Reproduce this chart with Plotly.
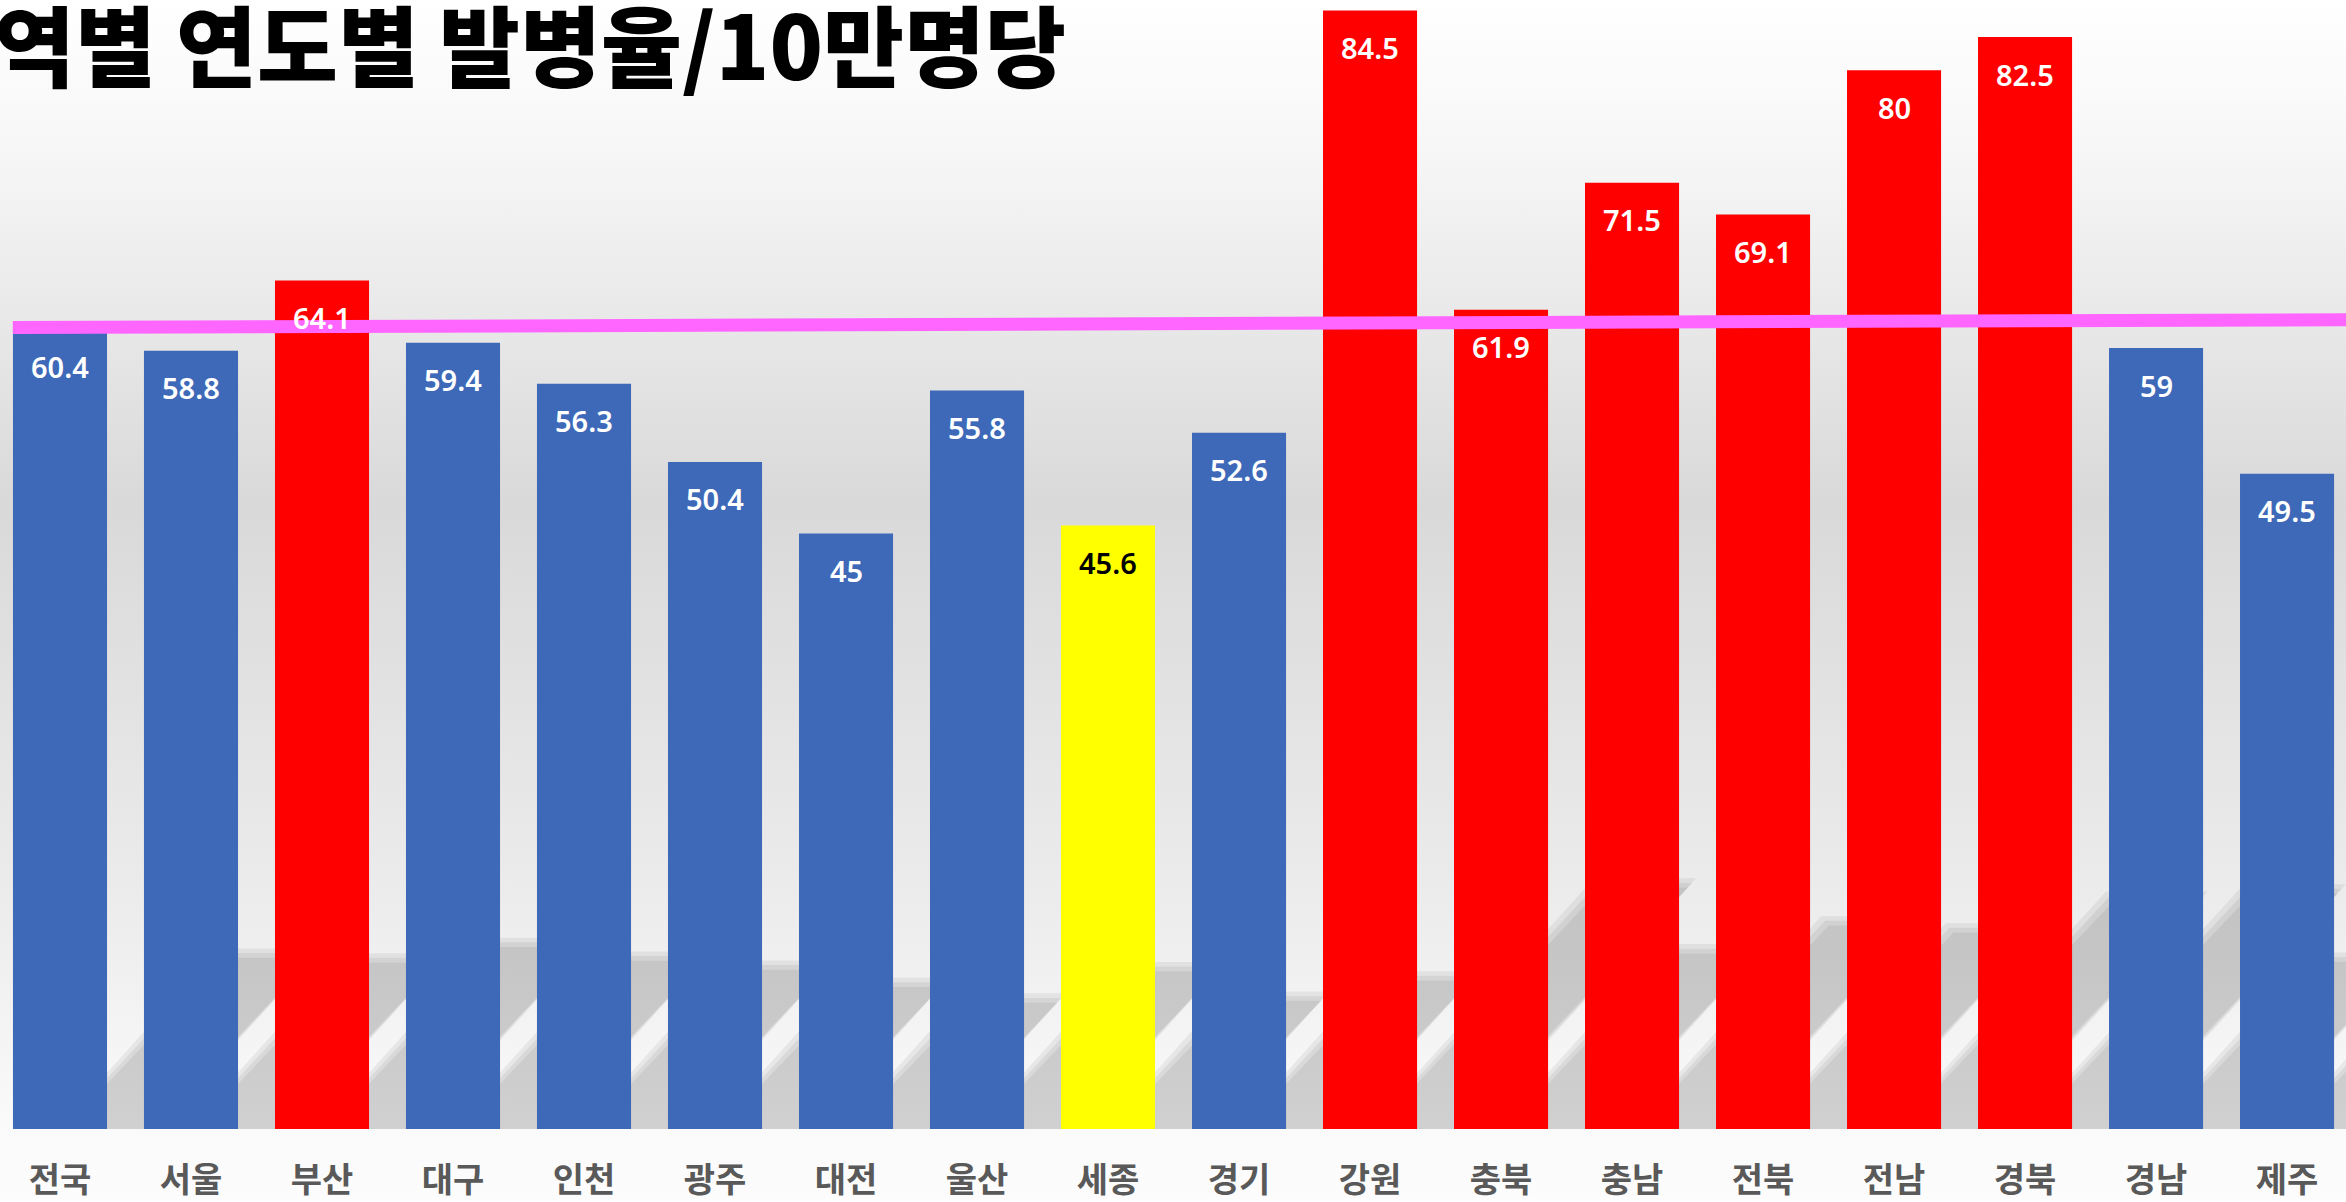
import base64
import plotly.graph_objects as go

# ---- data ----
regions = ["전국", "서울", "부산", "대구", "인천", "광주", "대전", "울산", "세종",
           "경기", "강원", "충북", "충남", "전북", "전남", "경북", "경남", "제주"]
rates = [60.4, 58.8, 64.1, 59.4, 56.3, 50.4, 45, 55.8, 45.6,
         52.6, 84.5, 61.9, 71.5, 69.1, 80, 82.5, 59, 49.5]
rate_labels = ["60.4", "58.8", "64.1", "59.4", "56.3", "50.4", "45", "55.8", "45.6",
               "52.6", "84.5", "61.9", "71.5", "69.1", "80", "82.5", "59", "49.5"]
title_text = "역별 연도별 발병율/10만명당"
# reference line (national level, drawn slightly tilted as in the picture)
ref_line_x = [-0.36, 17.6]
ref_line_y = [60.55, 61.15]

# ---- styles ----
BLUE = "#3d69b8"
RED = "#ff0000"
YELLOW = "#ffff00"
BAR_W = 0.718
bar_colors = []
label_colors = []
for r, v in zip(regions, rates):
    if r == "세종":
        bar_colors.append(YELLOW)
        label_colors.append("#000000")
    elif v > rates[0]:
        bar_colors.append(RED)
        label_colors.append("#ffffff")
    else:
        bar_colors.append(BLUE)
        label_colors.append("#ffffff")

W, H = 2346, 1202
MB = 71

fig = go.Figure()
fig.add_trace(go.Bar(
    x=list(range(len(regions))), y=rates, width=BAR_W,
    marker=dict(color=bar_colors, line=dict(width=0)),
    hoverinfo="skip", showlegend=False,
))
fig.add_trace(go.Scatter(
    x=ref_line_x, y=ref_line_y, mode="lines",
    line=dict(color="#ff66ff", width=13),
    hoverinfo="skip", showlegend=False, cliponaxis=False,
))

# soft perspective drop shadows behind the bars (derived from bar values)
shapes = []
SH_OFF = BAR_W / 2      # ground offset of the shadow
SH_H = 0.22             # shadow height relative to the bar
SH_SKEW = 0.0206        # horizontal skew per unit of value
for i, v in enumerate(rates):
    for gx, gy in [(-0.03, -0.35), (0.0, 0.0), (0.03, 0.35)]:
        x0 = i - BAR_W / 2 + SH_OFF - gx
        x1 = i + BAR_W / 2 + SH_OFF + gx
        dx = SH_SKEW * v
        hs = SH_H * v + gy
        shapes.append(dict(
            type="path", xref="x", yref="y", layer="below",
            path=f"M {x0},0 L {x1},0 L {x1 + dx},{hs} L {x0 + dx},{hs} Z",
            fillcolor="rgba(0,0,0,0.06)", line=dict(width=0),
        ))

annotations = []
for i, (lab, v, c) in enumerate(zip(rate_labels, rates, label_colors)):
    annotations.append(dict(
        x=i, y=v, xref="x", yref="y", text=lab, showarrow=False,
        yanchor="middle", yshift=-37,
        font=dict(family="Noto Sans", size=29, color=c, weight=600),
    ))
annotations.append(dict(
    x=0, y=1, xref="paper", yref="paper", xanchor="left", yanchor="top",
    xshift=-8, yshift=24,
    text=title_text, showarrow=False,
    font=dict(family="Noto Sans CJK KR", size=88, color="#000000", weight=900),
))

# background gradient image
svg = f'''<svg xmlns="http://www.w3.org/2000/svg" width="{W}" height="{H}" preserveAspectRatio="none">
<defs><linearGradient id="g" x1="0" y1="0" x2="0" y2="1">
<stop offset="0" stop-color="#ffffff"/>
<stop offset="0.12" stop-color="#f7f7f7"/>
<stop offset="0.42" stop-color="#d9d9d9"/>
<stop offset="0.75" stop-color="#ececec"/>
<stop offset="0.94" stop-color="#fafafa"/>
<stop offset="1" stop-color="#fcfcfc"/>
</linearGradient></defs>
<rect width="{W}" height="{H}" fill="url(#g)"/></svg>'''
src = "data:image/svg+xml;base64," + base64.b64encode(svg.encode()).decode()

plot_h = H - MB
fig.update_layout(
    width=W, height=H,
    margin=dict(l=0, r=0, t=0, b=MB),
    paper_bgcolor="#ffffff", plot_bgcolor="rgba(0,0,0,0)",
    showlegend=False,
    annotations=annotations,
    shapes=shapes,
    images=[dict(source=src, xref="paper", yref="paper", x=0, y=1,
                 sizex=1, sizey=H / plot_h, xanchor="left", yanchor="top",
                 sizing="stretch", layer="below")],
    xaxis=dict(
        range=[-0.458, 17.45], tickmode="array",
        tickvals=list(range(len(regions))), ticktext=regions,
        showgrid=False, zeroline=False, showline=False, ticks="",
        tickfont=dict(family="Noto Sans CJK KR", size=34, color="#595959", weight=700),
        ticklabelstandoff=28,
    ),
    yaxis=dict(range=[0, 85.3], visible=False, showgrid=False, zeroline=False),
)

fig.write_html("out.html", config={"displayModeBar": False},
               post_script="document.body.style.margin='0';")
